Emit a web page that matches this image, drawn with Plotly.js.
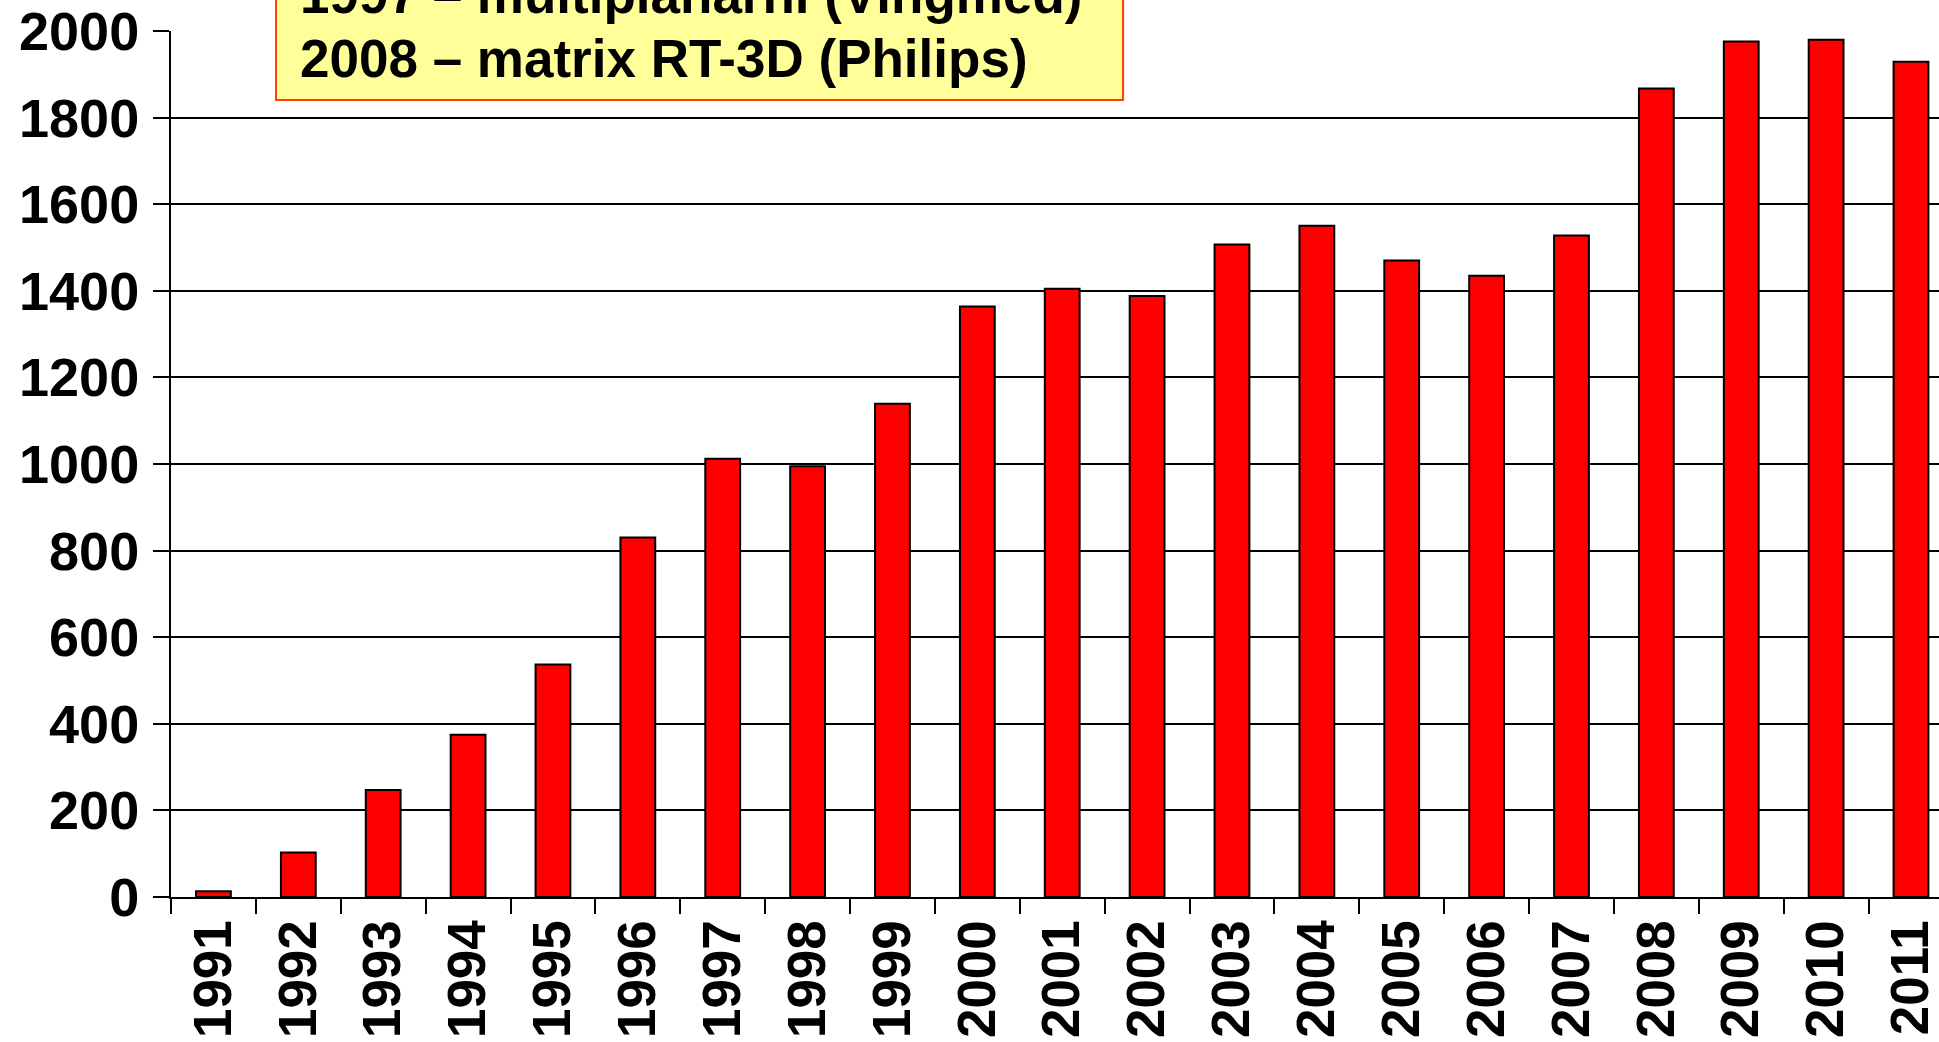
<!DOCTYPE html>
<html>
<head>
<meta charset="utf-8">
<script src="https://cdn.plot.ly/plotly-3.0.1.min.js"></script>
<style>
  html, body { margin: 0; padding: 0; overflow: hidden; background: #fff; }
  #chart { width: 1939px; height: 1042px; }
</style>
</head>
<body>
<div id="chart"></div>
<script>
// years on the x axis
var years = ["1991", "1992", "1993", "1994", "1995", "1996", "1997",
    "1998", "1999", "2000", "2001", "2002", "2003", "2004",
    "2005", "2006", "2007", "2008", "2009", "2010", "2011"];

// examinations per year
var counts = [13, 103, 247, 375, 537, 830, 1012,
    995, 1139, 1364, 1405, 1388, 1507, 1550,
    1470, 1435, 1528, 1867, 1976, 1980, 1929];

var yTicks = [0, 200, 400, 600, 800, 1000, 1200, 1400, 1600, 1800, 2000];

var noteLines = ["1997 – multiplanarni (Vingmed)", "2008 – matrix RT-3D (Philips)"];

var boldFont = {family: "Liberation Sans, Arial, sans-serif", size: 53, color: "black", weight: "bold"};

var bars = {
    x: years,
    y: counts,
    type: "bar",
    marker: {color: "#ff0000",
        line: {color: "black", width: 2}
    },
    hoverinfo: "x+y"
};

var layout = {
    width: 1939,
    height: 1042,
    margin: {l: 171, r: 0, t: 31, b: 145},
    paper_bgcolor: "white",
    plot_bgcolor: "white",
    showlegend: false,
    bargap: 0.59,
    font: boldFont,
    xaxis: {
        type: "category",
        range: [-0.5, 20.33],
        tickangle: -90,
        tickfont: boldFont,
        ticks: "outside",
        tickson: "boundaries",
        ticklen: 15,
        tickwidth: 2,
        tickcolor: "black",
        showline: true,
        linecolor: "black",
        linewidth: 2,
        showgrid: false,
        zeroline: false,
        fixedrange: true
    },
    yaxis: {
        range: [0, 2000],
        tickvals: yTicks,
        tickfont: {family: boldFont.family, size: 54, color: "black", weight: "bold"},
        ticks: "outside",
        ticklen: 16,
        tickwidth: 2,
        tickcolor: "black",
        ticklabelstandoff: 3,
        showline: true,
        linecolor: "black",
        linewidth: 2,
        showgrid: true,
        gridcolor: "black",
        gridwidth: 2,
        zeroline: false,
        fixedrange: true
    },
    shapes: [{
        type: "rect",
        xref: "paper", yref: "paper",
        x0: 0.0594, x1: 0.5385,
        y0: 0.9203, y1: 1.06,
        fillcolor: "#ffff99",
        line: {color: "#ff4000", width: 2},
        layer: "above"
    }],
    annotations: [
        {
            text: noteLines[0],
            xref: "paper", yref: "paper",
            x: 0.0718, y: 1.0416,
            xanchor: "left", yanchor: "middle",
            showarrow: false,
            font: boldFont
        },
        {
            text: noteLines[1],
            xref: "paper", yref: "paper",
            x: 0.0718, y: 0.9677,
            xanchor: "left", yanchor: "middle",
            showarrow: false,
            font: boldFont
        }
    ]
};

Plotly.newPlot("chart", [bars], layout, {displayModeBar: false, staticPlot: true});
</script>
</body>
</html>
